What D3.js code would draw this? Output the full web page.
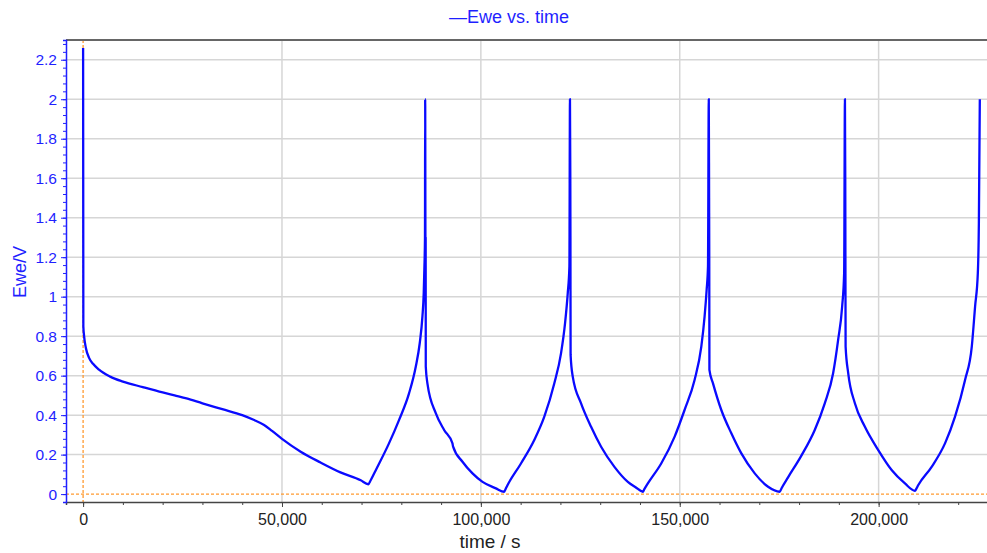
<!DOCTYPE html>
<html>
<head>
<meta charset="utf-8">
<script src="https://cdn.jsdelivr.net/npm/d3@7/dist/d3.min.js"></script>
<style>
  body { margin: 0; background: #fff; }
  svg { display: block; font-family: "Liberation Sans", Arial, sans-serif; }
</style>
</head>
<body>
<div id="chart"></div>
<script>
// Ewe vs. time
var timeS = [0, 60, 250, 700, 1500, 2500, 4000, 6800, 10000, 15000, 20000, 23000, 26000, 30000, 35000, 40000, 43000, 45500, 47500, 50000, 54700, 59700, 64700, 69800, 71700,
  72300, 73550, 76900, 79420, 81940, 83630, 84630, 85310, 85640, 85810, 85950, 86000, 86080, 86120, 86150,
  86570, 88660, 90760, 92860, 93000, 95380, 97900, 100420, 103780, 105870,
  106200, 106720, 110080, 113430, 115950, 118470, 120150, 121160, 121840, 122260, 122400, 122480, 122520, 122560,
  123100, 125190, 127710, 130230, 133580, 136950, 138900, 140720,
  141100, 141980, 145340, 148690, 151210, 153730, 155420, 156250, 156760, 157100, 157300, 157380, 157420, 157460,
  158360, 160450, 162970, 165490, 168850, 172210, 175140,
  175600, 177230, 180580, 183940, 186460, 188560, 189820, 190830, 191330, 191530, 191610, 191650, 191700,
  192360, 194030, 196550, 199910, 203270, 206620, 209140,
  209500, 209980, 213330, 216690, 219210, 221730, 223420, 224250, 224940, 225200, 225440];
var eweV = [2.26, 0.85, 0.80, 0.74, 0.69, 0.66, 0.63, 0.595, 0.57, 0.542, 0.515, 0.50, 0.485, 0.46, 0.43, 0.40, 0.375, 0.35, 0.32, 0.28, 0.215, 0.16, 0.11, 0.07, 0.05,
  0.07, 0.12, 0.257, 0.375, 0.51, 0.645, 0.764, 0.9, 1.02, 1.15, 1.3, 2.0, 1.17, 1.3, 0.645,
  0.56, 0.41, 0.325, 0.257, 0.242, 0.164, 0.105, 0.062, 0.029, 0.012,
  0.025, 0.046, 0.155, 0.274, 0.392, 0.561, 0.713, 0.865, 1.017, 1.152, 2.0, 1.64, 1.3, 0.705,
  0.595, 0.46, 0.341, 0.24, 0.138, 0.062, 0.035, 0.012,
  0.025, 0.054, 0.155, 0.29, 0.426, 0.578, 0.747, 0.9, 1.034, 1.152, 2.0, 1.5, 1.2, 0.629,
  0.561, 0.426, 0.308, 0.206, 0.105, 0.037, 0.012,
  0.03, 0.085, 0.195, 0.325, 0.46, 0.612, 0.781, 0.95, 1.119, 2.0, 1.6, 1.2, 0.747,
  0.612, 0.46, 0.341, 0.223, 0.122, 0.054, 0.017,
  0.028, 0.046, 0.138, 0.257, 0.392, 0.578, 0.747, 0.95, 1.119, 1.37, 2.0];

var xTicks = [0, 50000, 100000, 150000, 200000];
var yTicks = [0, 0.2, 0.4, 0.6, 0.8, 1, 1.2, 1.4, 1.6, 1.8, 2, 2.2];
var xMinor = d3.range(0, 230000, 10000);
var yMinor = d3.range(0, 58).map(function (i) { return +(i * 0.04).toFixed(2); });

var blue = "#1f1fff";
var W = 987, H = 553;
var margin = { top: 40, right: -3, bottom: 51, left: 66 };
var width = W - margin.left - margin.right;
var height = H - margin.top - margin.bottom;

var svg = d3.select("#chart").append("svg")
  .attr("width", W)
  .attr("height", H);

var g = svg.append("g")
  .attr("transform", "translate(" + margin.left + "," + margin.top + ")");

var x = d3.scaleLinear().domain([-4300, 228000]).range([0, width]);
var y = d3.scaleLinear().domain([-0.04, 2.3]).range([height, 0]);

// Gitternetz
g.selectAll(".hgrid")
  .data(yTicks.filter(function (d) { return d > 0; }))
  .enter().append("line")
  .attr("x1", 0).attr("x2", width)
  .attr("y1", function (d) { return y(d); })
  .attr("y2", function (d) { return y(d); })
  .attr("stroke", "#d6d6d6").attr("stroke-width", 1.5);

g.selectAll(".vgrid")
  .data(xTicks.filter(function (d) { return d > 0; }))
  .enter().append("line")
  .attr("y1", 0).attr("y2", height)
  .attr("x1", function (d) { return x(d); })
  .attr("x2", function (d) { return x(d); })
  .attr("stroke", "#d6d6d6").attr("stroke-width", 1.5);

// orange Nulllinien
g.append("line")
  .attr("x1", 0).attr("x2", width)
  .attr("y1", y(0)).attr("y2", y(0))
  .attr("stroke", "#ff9a30").attr("stroke-width", 1.3)
  .attr("stroke-dasharray", "3,2");
g.append("line")
  .attr("x1", x(0)).attr("x2", x(0))
  .attr("y1", 0).attr("y2", height)
  .attr("stroke", "#ff9a30").attr("stroke-width", 1.3)
  .attr("stroke-dasharray", "3,2");

// Rahmen oben
g.append("line")
  .attr("x1", 0).attr("x2", width)
  .attr("y1", 0).attr("y2", 0)
  .attr("stroke", "#666").attr("stroke-width", 2);

// Kurve
var data = timeS.map(function (t, i) { return { t: t, v: eweV[i] }; });
var line = d3.line()
  .curve(d3.curveMonotoneX)
  .x(function (d) { return x(d.t); })
  .y(function (d) { return y(d.v); });

g.append("path")
  .datum(data)
  .attr("fill", "none")
  .attr("stroke", "#0a0aff")
  .attr("stroke-width", 2.3)
  .attr("stroke-linejoin", "round")
  .attr("d", line);

// x-Achse
var xAxisMinor = d3.axisBottom(x).tickValues(xMinor).tickSize(3).tickFormat("");
var xAxis = d3.axisBottom(x).tickValues(xTicks).tickSize(5).tickFormat(d3.format(","));

var xa = g.append("g")
  .attr("transform", "translate(0," + height + ")")
  .call(xAxisMinor);
xa.select(".domain").attr("stroke", "#444").attr("stroke-width", 1.5);
xa.selectAll(".tick line").attr("stroke", "#444");

var xb = g.append("g")
  .attr("transform", "translate(0," + height + ")")
  .call(xAxis);
xb.select(".domain").remove();
xb.selectAll(".tick line").attr("stroke", "#444");
xb.selectAll(".tick text")
  .attr("fill", "#222")
  .style("font-size", "16px")
  .attr("y", 9)
  .attr("dy", "0.85em");

// y-Achse
var yAxisMinor = d3.axisLeft(y).tickValues(yMinor).tickSize(3).tickFormat("");
var yAxis = d3.axisLeft(y).tickValues(yTicks).tickSize(5).tickFormat(d3.format(""));

var ya = g.append("g").call(yAxisMinor);
ya.select(".domain").attr("stroke", blue).attr("stroke-width", 1.5);
ya.selectAll(".tick line").attr("stroke", blue);

var yb = g.append("g").call(yAxis);
yb.select(".domain").remove();
yb.selectAll(".tick line").attr("stroke", blue);
yb.selectAll(".tick text")
  .attr("fill", blue)
  .attr("x", -9)
  .style("font-size", "15.5px");

// Beschriftungen
svg.append("text")
  .attr("x", 509)
  .attr("y", 23)
  .attr("text-anchor", "middle")
  .attr("fill", blue)
  .style("font-size", "18px")
  .text("\u2014Ewe vs. time");

svg.append("text")
  .attr("x", 490)
  .attr("y", 548)
  .attr("text-anchor", "middle")
  .attr("fill", "#222")
  .style("font-size", "19px")
  .text("time / s");

svg.append("text")
  .attr("transform", "translate(26,272) rotate(-90)")
  .attr("text-anchor", "middle")
  .attr("fill", blue)
  .style("font-size", "18px")
  .text("Ewe/V");
</script>
</body>
</html>
